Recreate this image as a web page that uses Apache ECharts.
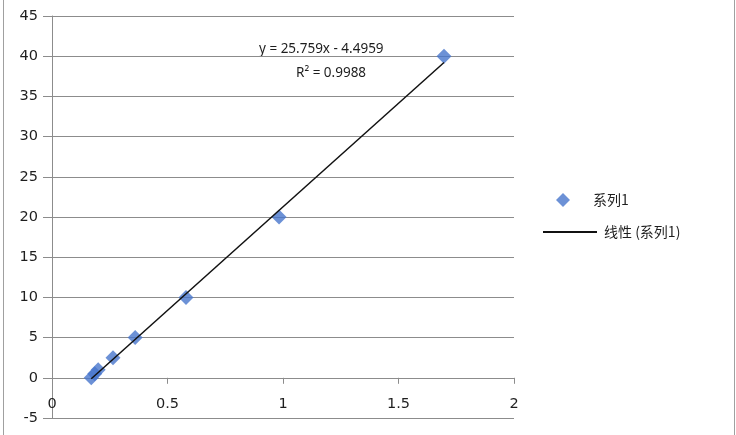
<!DOCTYPE html>
<html>
<head>
<meta charset="utf-8">
<script src="https://cdn.jsdelivr.net/npm/echarts@6/dist/echarts.min.js"></script>
<style>html,body{margin:0;padding:0;background:#fff;}#c{width:736px;height:435px;}</style>
</head>
<body>
<div id="c"></div>
<script>
var xValues = [0.170, 0.185, 0.200, 0.264, 0.360, 0.580, 0.983, 1.697];
var yValues = [0, 0.5, 1, 2.5, 5, 10, 20, 40];
var slope = 25.759;
var intercept = -4.4959;
var rSquared = 0.9988;
var seriesName = '系列1';
var trendName = '线性 (系列1)';
var yMin = -5, yMax = 45, yStep = 5;
var xMin = 0, xMax = 2, xStep = 0.5;

var pts = xValues.map(function (x, i) { return [x, yValues[i]]; });
var dxmin = Math.min.apply(null, xValues), dxmax = Math.max.apply(null, xValues);
var trend = [[dxmin, slope * dxmin + intercept], [dxmax, slope * dxmax + intercept]];

var W = 736, H = 435, gTop = 16, gBottom = 17;
var gridH = H - gTop - gBottom;
var zeroOffset = -gridH * (0 - yMin) / (yMax - yMin);

var font = '"Noto Sans", sans-serif';
var axisFont = '"DejaVu Sans", sans-serif';
var gray = '#8c8c8c';
var chart = echarts.init(document.getElementById('c'), null, {renderer: 'canvas'});
chart.setOption({
  animation: false,
  backgroundColor: '#fff',
  grid: {left: 52, right: 222, top: gTop, bottom: gBottom, containLabel: false, outerBoundsMode: 'none'},
  xAxis: {
    type: 'value', min: xMin, max: xMax, interval: xStep, position: 'bottom', offset: zeroOffset,
    axisLine: {show: true, onZero: false, lineStyle: {color: gray, width: 1}},
    axisTick: {show: true, length: 6, lineStyle: {color: gray}},
    axisLabel: {color: '#1e1e1e', fontSize: 14.5, fontFamily: axisFont, margin: 19},
    splitLine: {show: false}
  },
  yAxis: {
    type: 'value', min: yMin, max: yMax, interval: yStep,
    axisLine: {show: true, onZero: false, lineStyle: {color: gray, width: 1}},
    axisTick: {show: true, length: 9, lineStyle: {color: gray}},
    axisLabel: {color: '#1e1e1e', fontSize: 14.5, fontFamily: axisFont, margin: 14},
    splitLine: {show: true, lineStyle: {color: gray, width: 1}}
  },
  legend: [
    {data: [{name: seriesName, icon: 'diamond'}], orient: 'vertical', left: 551, top: 188,
     itemWidth: 14, itemHeight: 14,
     textStyle: {fontSize: 14, fontFamily: '"Noto Sans CJK SC", sans-serif', color: '#1e1e1e', padding: [0, 0, 0, 18]}},
    {data: [{name: trendName, icon: 'rect'}], orient: 'vertical', left: 538, top: 220,
     itemWidth: 54, itemHeight: 2,
     textStyle: {fontSize: 14, fontFamily: '"Noto Sans CJK SC", sans-serif', color: '#1e1e1e', padding: [0, 0, 0, 2]}}
  ],
  graphic: [
    {type: 'rect', shape: {x: 3.5, y: -5, width: 731, height: 446}, style: {fill: 'none', stroke: '#a0a0a0', lineWidth: 1}, silent: true},
    {type: 'text', left: 259, top: 42, style: {text: 'y = ' + slope + 'x - ' + Math.abs(intercept), fontSize: 13.5, fontFamily: font, fill: '#1e1e1e'}},
    {type: 'text', left: 296, top: 66, style: {text: 'R² = ' + rSquared, fontSize: 13.5, fontFamily: font, fill: '#1e1e1e'}}
  ],
  series: [
    {name: seriesName, type: 'scatter', data: pts, symbol: 'diamond', symbolSize: 15,
     itemStyle: {color: '#4775cc'}, z: 2},
    {name: trendName, type: 'line', data: trend, symbol: 'none', showSymbol: false,
     lineStyle: {color: '#111', width: 1.5}, itemStyle: {color: '#111'}, z: 3}
  ]
});
</script>
</body>
</html>
